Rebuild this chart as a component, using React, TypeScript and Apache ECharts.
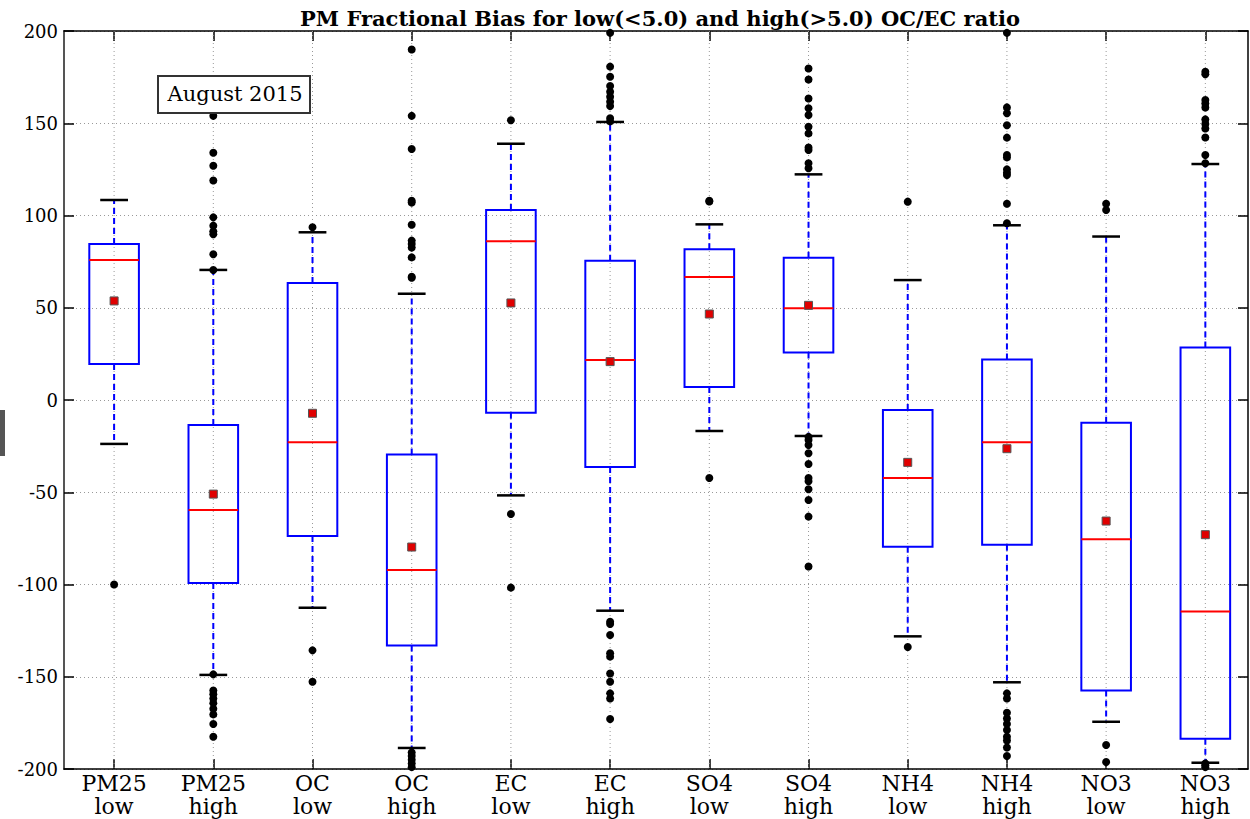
import React, { useEffect, useRef } from "react";
import * as echarts from "echarts";

const categories = ["PM25\nlow", "PM25\nhigh", "OC\nlow", "OC\nhigh", "EC\nlow", "EC\nhigh", "SO4\nlow", "SO4\nhigh", "NH4\nlow", "NH4\nhigh", "NO3\nlow", "NO3\nhigh"];

const whiskerLow = [-23.8, -149, -112.6, -188.6, -51.7, -114.2, -16.8, -19.5, -128.1, -153, -174.4, -196.6];
const q1 = [19.5, -99.2, -73.7, -133, -6.9, -36.3, 7.0, 25.8, -79.5, -78.4, -157.4, -183.6];
const median = [75.9, -59.6, -22.9, -92.1, 86, 21.7, 66.7, 49.7, -42.3, -22.9, -75.5, -114.7];
const q3 = [84.6, -13.6, 63.4, -29.6, 103, 75.5, 81.7, 77.1, -5.4, 22.0, -12.3, 28.4];
const whiskerHigh = [108.4, 70.5, 90.9, 57.6, 138.9, 150.7, 95.2, 122.3, 65, 94.7, 88.6, 127.9];
const mean = [53.7, -51, -7.2, -79.7, 52.6, 20.8, 46.6, 51.3, -33.8, -26.4, -65.6, -73];

const outliers: number[][] = [
  [-100],
  [154, 134, 127, 119, 99, 94.5, 91.4, 89.8, 79, 70.5, -148.7, -157.5, -159.5, -161.8, -164.4, -167.3, -170.4, -175.6, -182.5],
  [93.6, -135.7, -152.7],
  [190, 154, 136, 108, 107, 95, 86.4, 84.6, 82.6, 77.3, 66.8, 66.3, -191, -193, -195, -197, -199],
  [151.6, -61.8, -101.7],
  [199, 180.7, 175.2, 170.2, 167.1, 164.4, 161.7, 159.3, 152.7, 151, -120.2, -121.4, -127.4, -137.3, -139.1, -148.2, -152.7, -159, -161.8, -172.9],
  [108, 107.6, -42.3],
  [179.7, 173.7, 163.4, 158.1, 154.5, 148.1, 144.5, 136.9, 135.5, 128.3, 125.6, -20, -21.7, -24.4, -28.9, -34.7, -42.3, -44, -48.4, -54.2, -63.2, -90.2],
  [107.5, -133.9],
  [199, 158.6, 155.4, 148.9, 142.2, 132.8, 131.5, 125, 123.2, 121.9, 106.4, 95.8, -159, -161.8, -169.5, -172.6, -175.6, -178.9, -182.5, -184.6, -188.3, -193],
  [106.4, 103, -187, -196.2],
  [177.9, 176.5, 162.6, 160.7, 158.5, 152.1, 149.6, 147.2, 142.3, 132.8, 128.3, -197, -198, -199],
];

const yMin = -200;
const yMax = 200;
const yInterval = 50;
const xMin = -0.505;
const xMax = 11.43;
const positions = categories.map((_, i) => i);
const titleText = "PM Fractional Bias for low(<5.0) and high(>5.0) OC/EC ratio";
const annotationText = "August 2015";

const SERIF = "'DejaVu Serif', serif";

export default function App() {
  const ref = useRef<HTMLDivElement>(null);

  useEffect(() => {
    if (!ref.current) return;
    const chart = echarts.init(ref.current, null, { renderer: "svg" });

    const boxData = categories.map((_, i) => [positions[i], whiskerLow[i], q1[i], median[i], q3[i], whiskerHigh[i], mean[i]]);
    const outlierData: number[][] = [];
    outliers.forEach((arr, i) => arr.forEach((v) => outlierData.push([positions[i], v])));

    const renderItem = (params: any, api: any) => {
      const x = api.value(0);
      const band = api.size([1, 0])[0];
      const bw = band * 0.5;
      const cap = band * 0.28;
      const pLo = api.coord([x, api.value(1)]);
      const pQ1 = api.coord([x, api.value(2)]);
      const pMed = api.coord([x, api.value(3)]);
      const pQ3 = api.coord([x, api.value(4)]);
      const pHi = api.coord([x, api.value(5)]);
      const pMean = api.coord([x, api.value(6)]);
      const gTop = api.coord([x, yMax]);
      const gBot = api.coord([x, yMin]);
      const cx = pMed[0];
      return {
        type: "group",
        children: [
          {
            type: "line",
            shape: { x1: gTop[0], y1: gTop[1], x2: gBot[0], y2: gBot[1] },
            style: { stroke: "#999", lineWidth: 1, lineDash: [1, 3] },
          },
          {
            type: "line",
            shape: { x1: cx, y1: pQ3[1], x2: cx, y2: pHi[1] },
            style: { stroke: "#0000ff", lineWidth: 2, lineDash: [6, 4] },
          },
          {
            type: "line",
            shape: { x1: cx, y1: pQ1[1], x2: cx, y2: pLo[1] },
            style: { stroke: "#0000ff", lineWidth: 2, lineDash: [6, 4] },
          },
          {
            type: "line",
            shape: { x1: cx - cap / 2, y1: pHi[1], x2: cx + cap / 2, y2: pHi[1] },
            style: { stroke: "#000", lineWidth: 2.5 },
          },
          {
            type: "line",
            shape: { x1: cx - cap / 2, y1: pLo[1], x2: cx + cap / 2, y2: pLo[1] },
            style: { stroke: "#000", lineWidth: 2.5 },
          },
          {
            type: "rect",
            shape: { x: cx - bw / 2, y: pQ3[1], width: bw, height: pQ1[1] - pQ3[1] },
            style: { stroke: "#0000ff", lineWidth: 2, fill: "none" },
          },
          {
            type: "line",
            shape: { x1: cx - bw / 2, y1: pMed[1], x2: cx + bw / 2, y2: pMed[1] },
            style: { stroke: "#ff0000", lineWidth: 2 },
          },
          {
            type: "rect",
            shape: { x: cx - 4, y: pMean[1] - 4, width: 8, height: 8 },
            style: { stroke: "#555", lineWidth: 1, fill: "#e00000" },
          },
        ],
      };
    };

    const labelFor = (v: number) => {
      const i = Math.round(v);
      return Math.abs(v - i) < 1e-6 && categories[i] !== undefined ? categories[i] : "";
    };

    const option: any = {
      animation: false,
      backgroundColor: "#fff",
      grid: { left: 64, right: 2, top: 31, bottom: 50, containLabel: false },
      graphic: [
        {
          type: "text",
          x: 660,
          y: 18,
          style: {
            text: titleText,
            font: `bold 21px ${SERIF}`,
            fill: "#000",
            textAlign: "center",
            textVerticalAlign: "middle",
          },
        },
        {
          type: "rect",
          x: 158,
          y: 76,
          shape: { x: 0, y: 0, width: 152, height: 37 },
          style: { stroke: "#333", lineWidth: 2, fill: "#fff" },
          z: 100,
        },
        {
          type: "text",
          x: 235,
          y: 94,
          style: {
            text: annotationText,
            font: `21px ${SERIF}`,
            fill: "#000",
            textAlign: "center",
            textVerticalAlign: "middle",
          },
          z: 101,
        },
        {
          type: "rect",
          x: 0,
          y: 410,
          shape: { x: 0, y: 0, width: 5, height: 46 },
          style: { fill: "#555" },
        },
      ],
      xAxis: [
        {
          type: "value",
          min: xMin,
          max: xMax,
          position: "bottom",
          axisLine: { show: true, onZero: false, lineStyle: { color: "#000", width: 1.5 } },
          axisTick: { show: true, inside: true, length: 10, customValues: positions, lineStyle: { color: "#000", width: 1.5 } },
          axisLabel: { fontFamily: SERIF, fontSize: 22, color: "#000", lineHeight: 23, margin: 3, customValues: positions, formatter: labelFor, showMinLabel: true, showMaxLabel: true, hideOverlap: false },
          splitLine: { show: false },
        },
        {
          type: "value",
          min: xMin,
          max: xMax,
          position: "top",
          axisLine: { show: true, onZero: false, lineStyle: { color: "#000", width: 1.5 } },
          axisTick: { show: true, inside: true, length: 10, customValues: positions, lineStyle: { color: "#000", width: 1.5 } },
          axisLabel: { show: false },
          splitLine: { show: false },
        },
      ],
      yAxis: [
        {
          type: "value",
          min: yMin,
          max: yMax,
          interval: yInterval,
          position: "left",
          axisLine: { show: true, onZero: false, lineStyle: { color: "#555", width: 2 } },
          axisTick: { show: true, inside: true, length: 10, lineStyle: { color: "#000", width: 1.5 } },
          axisLabel: { fontFamily: SERIF, fontSize: 18, color: "#000", margin: 6 },
          splitLine: { show: true, lineStyle: { color: "#999", width: 1, type: [1, 3] } },
        },
        {
          type: "value",
          min: yMin,
          max: yMax,
          interval: yInterval,
          position: "right",
          axisLine: { show: true, onZero: false, lineStyle: { color: "#000", width: 1.5 } },
          axisTick: { show: true, inside: true, length: 10, lineStyle: { color: "#000", width: 1.5 } },
          axisLabel: { show: false },
          splitLine: { show: false },
        },
      ],
      series: [
        {
          type: "custom",
          xAxisIndex: 0,
          yAxisIndex: 0,
          renderItem,
          data: boxData,
          encode: { x: 0, y: [1, 2, 3, 4, 5, 6] },
          clip: false,
          z: 2,
        },
        {
          type: "scatter",
          xAxisIndex: 0,
          yAxisIndex: 0,
          data: outlierData,
          symbol: "circle",
          symbolSize: 8,
          itemStyle: { color: "#000", opacity: 1 },
          clip: false,
          z: 3,
        },
      ],
    };

    chart.setOption(option);
    return () => chart.dispose();
  }, []);

  return (
    <div
      ref={ref}
      style={{ position: "fixed", left: 0, top: 0, width: 1250, height: 819 }}
    />
  );
}
